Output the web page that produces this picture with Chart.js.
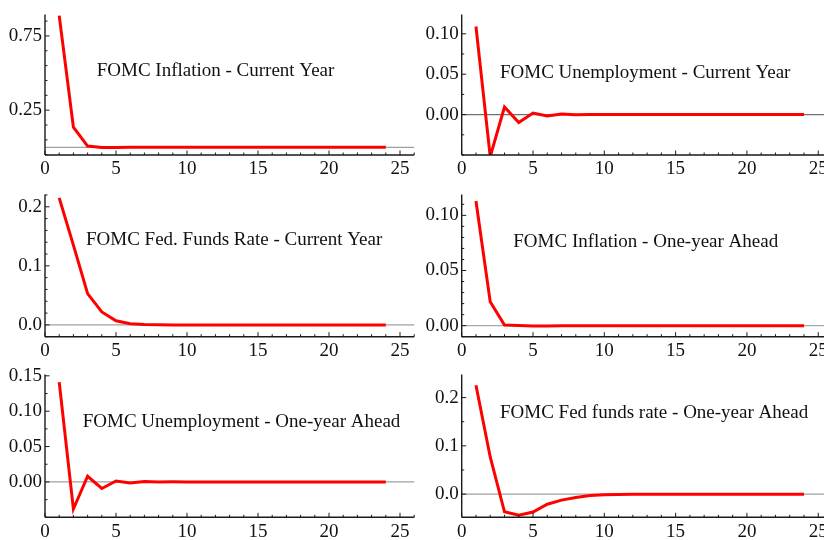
<!DOCTYPE html>
<html>
<head>
<meta charset="utf-8">
<script src="https://cdn.jsdelivr.net/npm/chart.js@4.4.1/dist/chart.umd.min.js"></script>
<style>
html,body{margin:0;padding:0;background:#fff;overflow:hidden;width:824px;height:540px;position:relative;}
canvas{position:absolute;}
</style>
</head>
<body>
<canvas id="c1" width="416" height="180" style="left:0px;top:0px"></canvas>
<canvas id="c2" width="420" height="180" style="left:416px;top:0px"></canvas>
<canvas id="c3" width="416" height="180" style="left:0px;top:180px"></canvas>
<canvas id="c4" width="420" height="180" style="left:416px;top:180px"></canvas>
<canvas id="c5" width="416" height="180" style="left:0px;top:360px"></canvas>
<canvas id="c6" width="420" height="180" style="left:416px;top:360px"></canvas>
<script>
// ---- data ----
const steps = [1,2,3,4,5,6,7,8,9,10,11,12,13,14,15,16,17,18,19,20,21,22,23,24];
const xTickLabels = [0,5,10,15,20,25];

const titles = [
  "FOMC Inflation - Current Year",
  "FOMC Unemployment - Current Year",
  "FOMC Fed. Funds Rate - Current Year",
  "FOMC Inflation - One-year Ahead",
  "FOMC Unemployment - One-year Ahead",
  "FOMC Fed funds rate - One-year Ahead"
];

const inflationCurrent   = [0.887,0.135,0.008,-0.002,-0.001,0,0,0,0,0,0,0,0,0,0,0,0,0,0,0,0,0,0,0];
const unemploymentCurrent= [0.109,-0.052,0.0093,-0.0098,0.002,-0.0017,0.0006,-0.0003,0.0001,0,0,0,0,0,0,0,0,0,0,0,0,0,0,0];
const fedFundsCurrent    = [0.215,0.135,0.053,0.022,0.007,0.002,0.0005,0.0001,0,0,0,0,0,0,0,0,0,0,0,0,0,0,0,0];
const inflationAhead     = [0.113,0.0216,0.0006,0.0002,-0.0004,-0.0002,0,0,0,0,0,0,0,0,0,0,0,0,0,0,0,0,0,0];
const unemploymentAhead  = [0.141,-0.0384,0.008,-0.0093,0.0014,-0.0016,0.0005,-0.0002,0.0001,0,0,0,0,0,0,0,0,0,0,0,0,0,0,0];
const fedFundsAhead      = [0.2255,0.077,-0.0366,-0.0435,-0.037,-0.021,-0.0124,-0.0069,-0.003,-0.0015,-0.0007,-0.0003,-0.0001,0,0,0,0,0,0,0,0,0,0,0];

const yTicksInflationCurrent    = [0.25, 0.75];
const yTicksUnemploymentCurrent = [0.00, 0.05, 0.10];
const yTicksFedFundsCurrent     = [0.0, 0.1, 0.2];
const yTicksInflationAhead      = [0.00, 0.05, 0.10];
const yTicksUnemploymentAhead   = [0.00, 0.05, 0.10, 0.15];
const yTicksFedFundsAhead       = [0.0, 0.1, 0.2];

// ---- layout / style ----
const FONT = "'Liberation Serif','Times New Roman',Times,serif";
const rows = [
  {top:0,   padTop:12,   xH:25},
  {top:180, padTop:12.3, xH:23.3},
  {top:360, padTop:13.5, xH:22.7}
];
const cols = [
  {left:0,   yW:45,   padRight:1.8},
  {left:416, yW:45.7, padRight:3.5}
];

const panels = [
  {id:'c1', row:0, col:0, title:titles[0], values:inflationCurrent,    majors:yTicksInflationCurrent,    dec:2, minor:0.1,   yMin:-0.052, yMax:0.895, tx:96.7,  ty:76,    zc:'#a0a0a0'},
  {id:'c2', row:0, col:1, title:titles[1], values:unemploymentCurrent, majors:yTicksUnemploymentCurrent, dec:2, minor:0.025, yMin:-0.05,  yMax:0.124, tx:500,   ty:78.3,  zc:'#707070'},
  {id:'c3', row:1, col:0, title:titles[2], values:fedFundsCurrent,     majors:yTicksFedFundsCurrent,     dec:1, minor:0.02,  yMin:-0.02,  yMax:0.221, tx:86,    ty:245,   zc:'#a0a0a0'},
  {id:'c4', row:1, col:1, title:titles[3], values:inflationAhead,      majors:yTicksInflationAhead,      dec:2, minor:0.01,  yMin:-0.01,  yMax:0.119, tx:513.3, ty:246.7, zc:'#a8a8a8'},
  {id:'c5', row:2, col:0, title:titles[4], values:unemploymentAhead,   majors:yTicksUnemploymentAhead,   dec:2, minor:0.025, yMin:-0.05,  yMax:0.152, tx:82.7,  ty:426.7, zc:'#a0a0a0'},
  {id:'c6', row:2, col:1, title:titles[5], values:fedFundsAhead,       majors:yTicksFedFundsAhead,       dec:1, minor:0.05,  yMin:-0.048, yMax:0.248, tx:500,   ty:418.3, zc:'#a0a0a0'}
];

const X_MAX = 26;

const mmaPlugin = {
  id: 'mma',
  beforeDatasetsDraw(chart, args, o) {
    const ctx = chart.ctx, xs = chart.scales.x, ys = chart.scales.y;
    const y0 = ys.getPixelForValue(0);
    ctx.save();
    ctx.strokeStyle = o.zc;
    ctx.lineWidth = 1.2;
    ctx.beginPath();
    ctx.moveTo(xs.getPixelForValue(0), y0);
    ctx.lineTo(xs.getPixelForValue(X_MAX), y0);
    ctx.stroke();
    ctx.restore();
  },
  afterDatasetsDraw(chart, args, o) {
    const ctx = chart.ctx, xs = chart.scales.x, ys = chart.scales.y;
    const bottom = ys.getPixelForValue(ys.min);
    const top = ys.getPixelForValue(ys.max);
    const left = xs.getPixelForValue(0);
    const right = xs.getPixelForValue(X_MAX);
    ctx.save();
    ctx.strokeStyle = '#1a1a1a';
    ctx.lineWidth = 1.4;
    ctx.beginPath();
    ctx.moveTo(left, bottom); ctx.lineTo(right, bottom);
    ctx.moveTo(left, bottom); ctx.lineTo(left, top);
    ctx.stroke();
    ctx.lineWidth = 1;
    ctx.beginPath();
    for (let v = 0; v <= X_MAX; v++) {
      const px = xs.getPixelForValue(v);
      const len = v % 5 === 0 ? 4.5 : 2.5;
      ctx.moveTo(px, bottom); ctx.lineTo(px, bottom - len);
    }
    const base = o.majors[0], st = o.minor;
    const kMin = Math.ceil((ys.min - base) / st - 1e-6);
    const kMax = Math.floor((ys.max - base) / st + 1e-6);
    for (let k = kMin; k <= kMax; k++) {
      const v = base + k * st;
      const isMajor = o.majors.some(m => Math.abs(m - v) < st * 0.01);
      const py = ys.getPixelForValue(v);
      const len = isMajor ? 4.5 : 2.5;
      ctx.moveTo(left, py); ctx.lineTo(left + len, py);
    }
    ctx.stroke();
    ctx.fillStyle = '#111';
    ctx.font = '19px ' + FONT;
    ctx.textAlign = 'left';
    ctx.textBaseline = 'alphabetic';
    ctx.fillText(o.title, o.tx, o.ty);
    ctx.restore();
  }
};

panels.forEach(p => {
  const r = rows[p.row], c = cols[p.col];
  new Chart(document.getElementById(p.id), {
    type: 'line',
    data: {
      datasets: [{
        data: steps.map((s, i) => ({x: s, y: p.values[i]})),
        borderColor: '#ff0000',
        borderWidth: 3,
        pointRadius: 0,
        tension: 0,
        fill: false
      }]
    },
    options: {
      responsive: false,
      animation: false,
      events: [],
      layout: {autoPadding: false, padding: {top: r.padTop, right: c.padRight, left: 0, bottom: 0}},
      plugins: {
        legend: {display: false},
        tooltip: {enabled: false},
        mma: {title: p.title, tx: p.tx - c.left, ty: p.ty - r.top, majors: p.majors, minor: p.minor, zc: p.zc}
      },
      scales: {
        x: {
          type: 'linear', min: 0, max: X_MAX,
          grid: {display: false, drawTicks: false},
          border: {display: false},
          afterBuildTicks: s => { s.ticks = xTickLabels.map(v => ({value: v})); },
          afterFit: s => { s.height = r.xH; },
          ticks: {font: {family: FONT, size: 19}, color: '#111', padding: 3, maxRotation: 0, autoSkip: false,
                  callback: v => String(v)}
        },
        y: {
          type: 'linear', min: p.yMin, max: p.yMax,
          grid: {display: false, drawTicks: false},
          border: {display: false},
          afterBuildTicks: s => { s.ticks = p.majors.map(v => ({value: v})); },
          afterFit: s => { s.width = c.yW; },
          ticks: {font: {family: FONT, size: 19}, color: '#111', padding: 3, autoSkip: false,
                  callback: v => Number(v).toFixed(p.dec)}
        }
      }
    },
    plugins: [mmaPlugin]
  });
});
</script>
</body>
</html>
